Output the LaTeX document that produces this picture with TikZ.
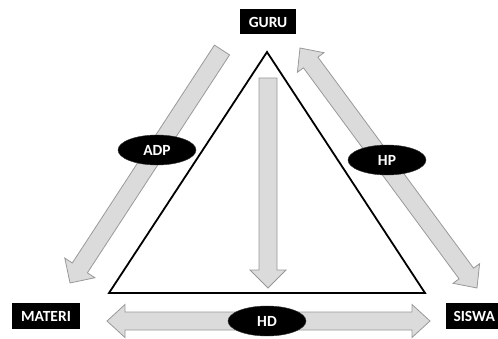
\documentclass[tikz,border=0pt]{standalone}
\usepackage{fontspec}
\setmainfont{Carlito}
\usetikzlibrary{shapes.geometric}
\tikzset{
  arr/.style={fill=gray!28, draw=gray!80, line width=0.8pt, line join=miter},
  lbl/.style={ellipse, fill=black, draw=black!80, minimum width=78pt, minimum height=30pt, inner sep=0pt, text=white, font=\bfseries\fontsize{15.5}{15.5}\selectfont},
  box/.style={rectangle, fill=black, inner sep=0pt, text=white, font=\bfseries\fontsize{15.5}{15.5}\selectfont},
}
% single arrow from (#1,#2) to (#3,#4)
\newcommand\myarrowS[4]{%
  \pgfmathsetmacro\alen{veclen(#3-#1,#4-#2)}%
  \pgfmathsetmacro\aang{atan2(#4-#2,#3-#1)}%
  \begin{scope}[shift={(#1,#2)},rotate=\aang]
    \draw[arr] (0,-9) -- ({\alen-18},-9) -- ({\alen-18},-18) -- (\alen,0) -- ({\alen-18},18) -- ({\alen-18},9) -- (0,9) -- cycle;
  \end{scope}}
% double arrow
\newcommand\myarrowD[4]{%
  \pgfmathsetmacro\alen{veclen(#3-#1,#4-#2)}%
  \pgfmathsetmacro\aang{atan2(#4-#2,#3-#1)}%
  \begin{scope}[shift={(#1,#2)},rotate=\aang]
    \draw[arr] (0,0) -- (18,16.5) -- (18,9) -- ({\alen-18},9) -- ({\alen-18},16.5) -- (\alen,0) -- ({\alen-18},-16.5) -- ({\alen-18},-9) -- (18,-9) -- (18,-16.5) -- cycle;
  \end{scope}}
\begin{document}
\begin{tikzpicture}[x=1pt,y=1pt]
\useasboundingbox (0,0) rectangle (498,338);
\fill[white] (0,0) rectangle (498,338);
% triangle
\coordinate (apex) at (267,286);
\coordinate (bl) at (109,45);
\coordinate (br) at (425,45);
\draw[line width=1.8pt, line join=miter] (apex) -- (bl) -- (br) -- cycle;
% arrows
\myarrowS{268}{260}{268}{50}
\myarrowS{222}{288}{70}{55}
\myarrowD{300}{290}{477}{50}
\myarrowD{107}{17}{430}{17}
% labels
\node[lbl] (adp) at (157,188) {ADP};
\node[lbl] (hp) at (387,178) {HP};
\node[lbl] (hd) at (267,17) {HD};
% boxes
\node[box, minimum width=56pt, minimum height=25pt] (guru) at (268,316) {GURU};
\node[box, minimum width=68pt, minimum height=26pt] (materi) at (46,22) {MATERI};
\node[box, anchor=west, minimum width=56pt, minimum height=26pt] (siswa) at (446,22) {SISWA};
\end{tikzpicture}
\end{document}
